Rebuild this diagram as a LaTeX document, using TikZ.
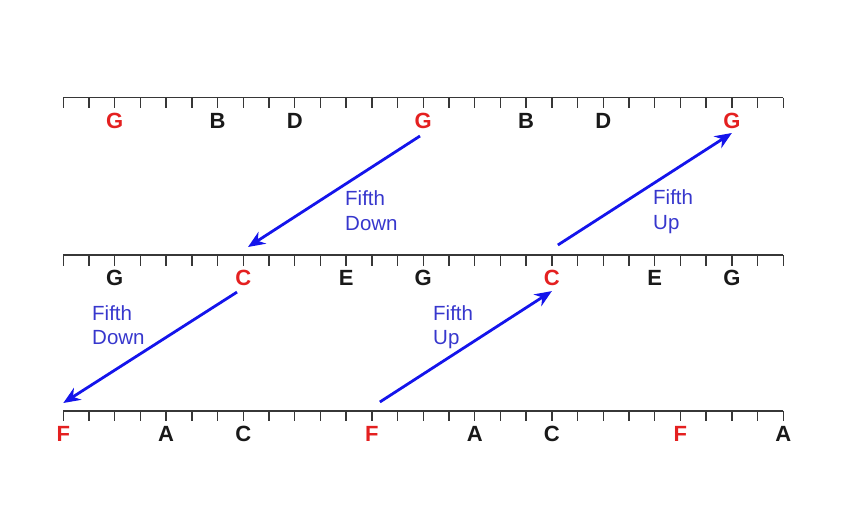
\documentclass[tikz,border=0pt]{standalone}
\usepackage{fontspec}
\setmainfont{Liberation Sans}
\usetikzlibrary{arrows.meta,calc}
\definecolor{notered}{RGB}{228,32,32}
\definecolor{noteblk}{RGB}{25,25,25}
\definecolor{arrblue}{RGB}{20,20,235}
\definecolor{txtblue}{RGB}{55,55,205}
\definecolor{rulegray}{RGB}{55,55,55}
\begin{document}
\begin{tikzpicture}[x=1pt,y=-1pt,
 rulestyle/.style={draw=rulegray,line width=1.7pt},
 tickstyle/.style={draw=rulegray,line width=1.5pt},
 note/.style={font=\fontsize{22}{22}\selectfont\bfseries,anchor=base,inner sep=0pt,text=noteblk},
 fifth/.style={draw=arrblue,line width=2.8pt,-{Stealth[length=17pt,width=14pt]}},
 fifthtext/.style={font=\fontsize{20.5}{24.5}\selectfont,text=txtblue,align=left,anchor=north west,inner sep=0pt}]
\useasboundingbox (0,0) rectangle (849,527);
\foreach \rw/\yy in {T/97.5,M/255,B/410.7}{
  \foreach \i in {0,...,28}{
    \coordinate (\rw\i) at ({63.3+\i*25.714},\yy);
    \draw[tickstyle] (\rw\i) -- ++(0,10.5);
  }
  \draw[rulestyle] (\rw0) -- (\rw28);
}
\foreach \i/\l/\c in {2/G/notered,6/B/noteblk,9/D/noteblk,14/G/notered,18/B/noteblk,21/D/noteblk,26/G/notered}
  \node[note,text=\c] (T\l\i) at ([shift={(0,30.8)}]T\i) {\l};
\foreach \i/\l/\c in {2/G/noteblk,7/C/notered,11/E/noteblk,14/G/noteblk,19/C/notered,23/E/noteblk,26/G/noteblk}
  \node[note,text=\c] (M\l\i) at ([shift={(0,30.8)}]M\i) {\l};
\foreach \i/\l/\c in {0/F/notered,4/A/noteblk,7/C/noteblk,12/F/notered,16/A/noteblk,19/C/noteblk,24/F/notered,28/A/noteblk}
  \node[note,text=\c] (B\l\i) at ([shift={(0,30.8)}]B\i) {\l};
\draw[fifth] ([shift={(-3.3,7.7)}]TG14.base) -- ([shift={(4.7,-8)}]M7);
\draw[fifth] ([shift={(6,-10)}]M19) -- ([shift={(0,4.7)}]TG26.base);
\draw[fifth] ([shift={(-6.3,6.3)}]MC7.base) -- ([shift={(0,-7.7)}]B0);
\draw[fifth] ([shift={(8,-8.7)}]B12) -- ([shift={(0,5.3)}]MC19.base);
\node[fifthtext] (f1) at (345,190.5) {Fifth\\Down};
\node[fifthtext] (f2) at (653,189.5) {Fifth\\Up};
\node[fifthtext] (f3) at (92,305) {Fifth\\Down};
\node[fifthtext] (f4) at (433,305) {Fifth\\Up};
\end{tikzpicture}
\end{document}
